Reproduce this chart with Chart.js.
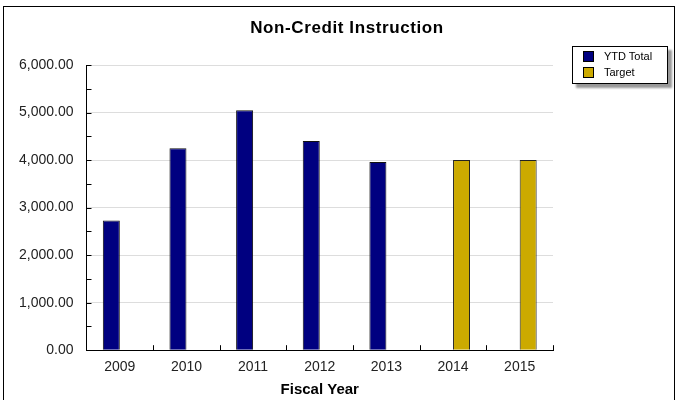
<!DOCTYPE html>
<html>
<head>
<meta charset="utf-8">
<script src="https://cdn.jsdelivr.net/npm/chart.js@4"></script>
<style>
  body { margin: 0; background: #fff; font-family: "Liberation Sans", Arial, sans-serif; }
  #wrap { position: relative; width: 679px; height: 400px; }
  #frame { position: absolute; left: 3px; top: 6px; width: 672px; height: 400px; border: 1px solid #000; box-sizing: border-box; pointer-events: none; }
  #title { position: absolute; left: 147px; top: 18px; width: 400px; text-align: center; font-size: 17px; line-height: 20px; font-weight: bold; letter-spacing: 0.6px; color: #000; }
  #legend { position: absolute; left: 572px; top: 46px; width: 96px; height: 38px; border: 1px solid #000; background: #fff; box-shadow: 4px 4px 2px #999; box-sizing: border-box; font-size: 11px; }
  .item { position: absolute; left: 10px; height: 11px; line-height: 11px; }
  .sw { display: inline-block; width: 11px; height: 11px; border: 1px solid #000; box-sizing: border-box; vertical-align: top; margin-right: 10px; }
</style>
</head>
<body>
<div id="wrap">
  <canvas id="chart" width="679" height="400"></canvas>
  <div id="frame"></div>
  <div id="title">Non-Credit Instruction</div>
  <div id="legend">
    <div class="item" style="top:4px"><span class="sw" style="background:#000080"></span>YTD Total</div>
    <div class="item" style="top:20px"><span class="sw" style="background:#ccaa00"></span>Target</div>
  </div>
</div>
<script>
const years = ['2009', '2010', '2011', '2012', '2013', '2014', '2015'];
const ytdTotal = [2730, 4250, 5050, 4400, 3960, null, null];
const target = [null, null, null, null, null, 4000, 4000];
const yTicks = [0, 1000, 2000, 3000, 4000, 5000, 6000];

// small tick marks pointing into the plot
const innerTicks = {
  id: 'innerTicks',
  afterDraw(chart) {
    const c = chart.ctx, x = chart.scales.x, y = chart.scales.y;
    c.save();
    c.strokeStyle = '#000';
    c.lineWidth = 1;
    c.beginPath();
    for (let v = 0; v <= 6000; v += 500) {
      const py = Math.round(y.getPixelForValue(v)) + 0.5;
      c.moveTo(x.left, py); c.lineTo(x.left + 5, py);
    }
    for (let i = 0; i <= years.length; i++) {
      const px = Math.round(x.getPixelForValue(i - 0.5)) + 0.5;
      c.moveTo(px, y.bottom); c.lineTo(px, y.bottom - 5);
    }
    c.stroke();
    c.restore();
  }
};

new Chart(document.getElementById('chart'), {
  type: 'bar',
  data: {
    labels: years,
    datasets: [
      { label: 'YTD Total', data: ytdTotal, backgroundColor: '#000080', borderColor: '#111', borderWidth: 1, borderSkipped: 'bottom' },
      { label: 'Target', data: target, backgroundColor: '#ccaa00', borderColor: '#222', borderWidth: 1, borderSkipped: 'bottom' }
    ]
  },
  options: {
    responsive: false,
    animation: false,
    layout: { padding: { left: 6, right: 126, top: 65, bottom: 1 } },
    categoryPercentage: 0.51,
    barPercentage: 1,
    plugins: {
      legend: { display: false },
      tooltip: { enabled: false },
      title: { display: false }
    },
    scales: {
      x: {
        offset: true,
        grid: { display: false, drawTicks: false },
        border: { color: '#000', width: 1 },
        ticks: { color: '#222', font: { family: 'Liberation Sans', size: 14 }, padding: 9, maxRotation: 0 },
        title: { display: true, text: 'Fiscal Year', color: '#000', font: { family: 'Liberation Sans', size: 15, weight: 'bold' }, padding: { top: -4, bottom: 0 } }
      },
      y: {
        min: 0,
        max: 6000,
        border: { color: '#000', width: 1 },
        grid: {
          drawTicks: false,
          color: ctx => (ctx.tick && yTicks.includes(ctx.tick.value)) ? '#dddddd' : 'rgba(0,0,0,0)'
        },
        ticks: {
          stepSize: 500,
          padding: 13,
          color: '#222',
          font: { family: 'Liberation Sans', size: 14 },
          callback: v => yTicks.includes(v) ? v.toLocaleString('en-US', { minimumFractionDigits: 2, maximumFractionDigits: 2 }) : ''
        }
      }
    }
  },
  plugins: [innerTicks]
});
</script>
</body>
</html>
